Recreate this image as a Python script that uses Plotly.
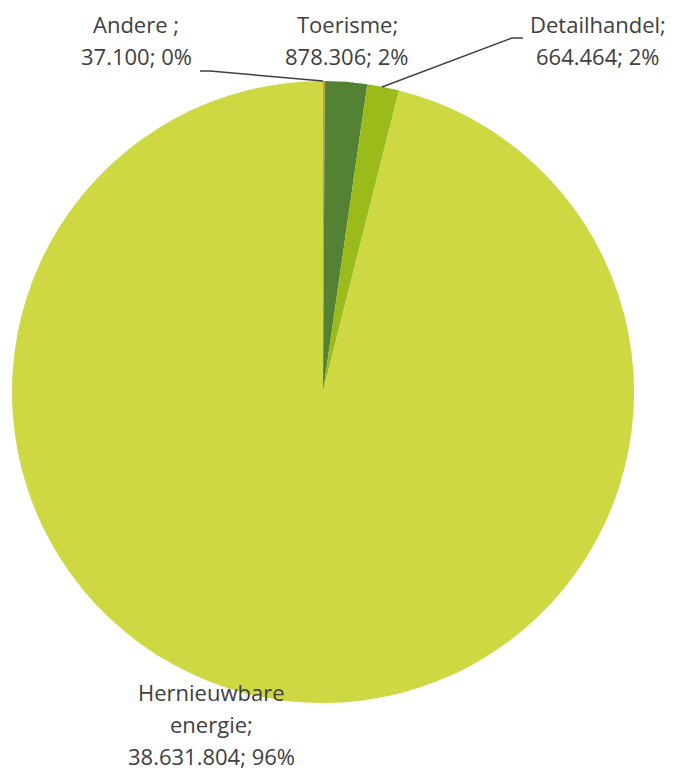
import plotly.graph_objects as go

# Data
labels = ["Andere", "Toerisme", "Detailhandel", "Hernieuwbare energie"]
values = [37100, 878306, 664464, 38631804]
colors = ["#E8901E", "#548235", "#9BBB1A", "#CDD843"]
label_texts = [
    "Andere ;<br>37.100; 0%",
    "Toerisme;<br>878.306; 2%",
    "Detailhandel;<br>664.464; 2%",
    "Hernieuwbare<br>energie;<br>38.631.804; 96%",
]

W, H = 677, 772
FONT = dict(family="Open Sans, Noto Sans, sans-serif", size=22, color="#404040")

fig = go.Figure(go.Pie(
    labels=labels,
    values=values,
    sort=False,
    direction="clockwise",
    rotation=0,
    marker=dict(colors=colors, line=dict(width=0)),
    textinfo="none",
    hoverinfo="label+value+percent",
    showlegend=False,
    domain=dict(x=[12 / W, 634 / W], y=[1 - 703 / H, 1 - 81 / H]),
))

# label positions in pixels: center x and first-line y, line spacing
label_pos = [(136, 24), (347, 24), (598, 24), (211, 692)]
line_gap = 32
for txt, (px, py) in zip(label_texts, label_pos):
    for i, line in enumerate(txt.split("<br>")):
        fig.add_annotation(
            x=px / W, y=1 - (py + i * line_gap) / H, xref="paper", yref="paper",
            text=line, showarrow=False, align="center", borderpad=0,
            xanchor="center", yanchor="middle", font=FONT,
        )

# leader lines
leaders = [
    [(200, 71), (210, 71), (323, 81)],
    [(523, 38), (512, 38), (382, 87)],
]
for pts in leaders:
    path = "M " + " L ".join(f"{x / W},{1 - y / H}" for x, y in pts)
    fig.add_shape(type="path", path=path, xref="paper", yref="paper",
                  line=dict(color="#404040", width=1.5))

fig.update_layout(
    width=W, height=H,
    margin=dict(l=0, r=0, t=0, b=0),
    paper_bgcolor="white",
    plot_bgcolor="white",
)

fig.write_html("out.html", config={"displayModeBar": False},
               post_script="document.body.style.margin='0px';")
